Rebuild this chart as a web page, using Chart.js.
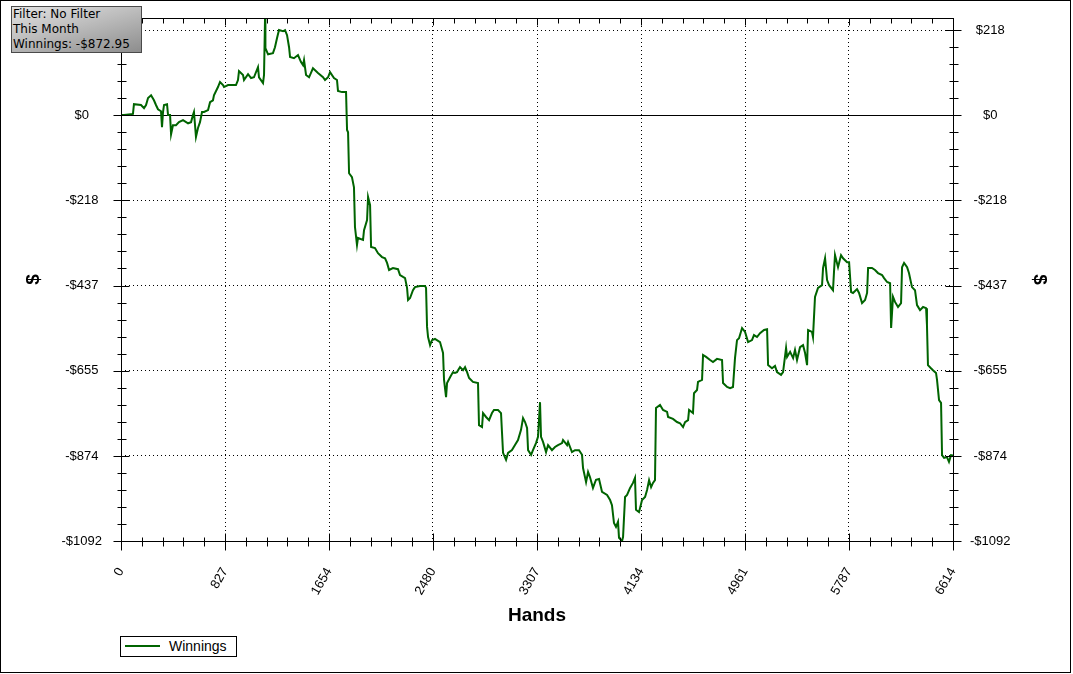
<!DOCTYPE html>
<html>
<head>
<meta charset="utf-8">
<title>Winnings</title>
<script src="https://cdn.jsdelivr.net/npm/chart.js@4.4.1/dist/chart.umd.min.js"></script>
<style>
    html, body { margin: 0; padding: 0; background: #fff; }
    #wrap { position: relative; width: 1073px; height: 674px; overflow: hidden; background: #fff; }
    #chart { position: absolute; left: 0; top: 0; }
    #frame { position: absolute; left: 0; top: 0; width: 1071px; height: 673px; border: 1px solid #000; box-sizing: border-box; pointer-events: none; }
    #info {
        position: absolute; left: 11px; top: 6px; width: 131px; height: 47px;
        box-sizing: border-box; border: 1px solid #4a4a4a; padding: 0 1px;
        background: linear-gradient(165deg, #e2e2e2 0%, #bdbdbd 45%, #8d8d8d 100%);
        font: 12px "DejaVu Sans", sans-serif; line-height: 15px; color: #000; white-space: nowrap;
    }
    #legend {
        position: absolute; left: 120px; top: 636px; width: 117px; height: 21px;
        box-sizing: border-box; border: 1px solid #000; background: #fff;
        font: 14px "Liberation Sans", Arial, sans-serif; color: #000;
    }
    #legend .swatch { position: absolute; left: 4px; top: 8px; width: 35px; height: 2px; background: #006400; }
    #legend .label { position: absolute; left: 48px; top: 1px; line-height: 17px; }
</style>
</head>
<body>
<div id="wrap">
    <canvas id="chart" width="1073" height="674"></canvas>
    <div id="info">Filter: No Filter<br>This Month<br>Winnings: -$872.95</div>
    <div id="legend"><span class="swatch"></span><span class="label">Winnings</span></div>
    <div id="frame"></div>
</div>
<script>
/* ─────────────────────────────────────────
   Data
   ─────────────────────────────────────────*/
const hands = [
    0, 24, 95, 103, 159, 183, 199, 215, 239, 262, 278, 294, 318, 326, 334, 342, 366, 374, 390, 398,
    413, 437, 461, 493, 533, 557, 572, 580, 596, 612, 628, 644, 660, 692, 708, 731, 739, 771, 787, 811,
    819, 851, 914, 930, 938, 970, 978, 1010, 1034, 1057, 1089, 1097, 1129, 1137, 1145, 1148, 1169, 1208, 1224, 1240,
    1256, 1288, 1304, 1320, 1336, 1344, 1375, 1407, 1431, 1447, 1455, 1471, 1495, 1526, 1566, 1606, 1622, 1646, 1662, 1693,
    1717, 1725, 1757, 1789, 1797, 1805, 1813, 1836, 1852, 1860, 1876, 1884, 1924, 1932, 1956, 1964, 1980, 1988, 2019, 2043,
    2075, 2099, 2115, 2131, 2162, 2202, 2218, 2242, 2258, 2274, 2282, 2298, 2321, 2337, 2377, 2417, 2425, 2433, 2441, 2457,
    2472, 2496, 2536, 2560, 2568, 2584, 2592, 2616, 2639, 2655, 2671, 2695, 2719, 2735, 2751, 2767, 2798, 2838, 2846, 2870,
    2878, 2902, 2926, 2949, 2965, 2997, 3021, 3029, 3037, 3061, 3077, 3108, 3132, 3156, 3180, 3196, 3212, 3228, 3236, 3260,
    3275, 3299, 3315, 3331, 3339, 3355, 3379, 3395, 3426, 3450, 3474, 3506, 3514, 3546, 3554, 3585, 3609, 3641, 3665, 3673,
    3697, 3713, 3728, 3752, 3776, 3800, 3824, 3864, 3888, 3903, 3919, 3935, 3951, 3959, 3983, 3991, 4007, 4023, 4047, 4070,
    4086, 4094, 4118, 4142, 4166, 4182, 4198, 4214, 4229, 4245, 4253, 4285, 4309, 4341, 4349, 4388, 4420, 4444, 4468, 4484,
    4508, 4516, 4547, 4555, 4579, 4587, 4619, 4627, 4651, 4683, 4706, 4738, 4778, 4786, 4818, 4842, 4865, 4881, 4897, 4913,
    4937, 4961, 4985, 5016, 5032, 5056, 5080, 5112, 5136, 5144, 5175, 5199, 5215, 5247, 5263, 5287, 5295, 5319, 5343, 5358,
    5374, 5398, 5422, 5438, 5454, 5462, 5493, 5501, 5517, 5541, 5573, 5581, 5597, 5613, 5629, 5660, 5668, 5676, 5700, 5724,
    5740, 5772, 5788, 5804, 5819, 5851, 5867, 5891, 5915, 5931, 5939, 5970, 5994, 6018, 6050, 6066, 6090, 6114, 6122, 6137,
    6153, 6177, 6201, 6209, 6225, 6249, 6264, 6288, 6312, 6328, 6352, 6376, 6400, 6407, 6415, 6439, 6455, 6479, 6487, 6503,
    6519, 6527, 6543, 6566, 6582, 6598, 6614
];

const winnings = [
    0, 0, 3, 28, 26, 18, 26, 44, 51, 38, 26, 15, 10, -31, 8, 26, 28, 0, 0, -49,
    -26, -26, -18, -13, -21, -18, 0, 8, -56, -33, -18, 8, 8, 13, 33, 38, 51, 72, 85, 77,
    72, 77, 77, 90, 113, 103, 90, 105, 95, 97, 123, 97, 82, 103, 249, 172, 156, 159, 174, 197,
    218, 215, 218, 205, 174, 149, 146, 154, 136, 128, 141, 103, 97, 120, 108, 97, 90, 97, 110, 95,
    90, 62, 59, 59, -38, -44, -149, -159, -185, -287, -333, -315, -320, -295, -269, -210, -231, -338, -341, -354,
    -364, -367, -379, -397, -392, -395, -410, -415, -418, -443, -474, -469, -449, -441, -438, -438, -443, -543, -569, -590,
    -577, -574, -582, -610, -679, -723, -687, -672, -659, -661, -659, -646, -654, -646, -659, -674, -684, -687, -795, -800,
    -764, -774, -782, -764, -756, -756, -764, -815, -866, -884, -866, -859, -846, -833, -807, -777, -787, -802, -859, -871,
    -859, -841, -825, -736, -825, -838, -864, -846, -859, -851, -846, -841, -833, -846, -838, -864, -859, -859, -871, -905,
    -941, -915, -928, -956, -935, -933, -966, -974, -987, -1000, -1046, -1056, -1043, -1084, -1092, -1082, -979, -974, -956, -943,
    -930, -1012, -1018, -987, -979, -961, -936, -954, -943, -936, -751, -743, -756, -761, -774, -779, -787, -790, -800, -787,
    -782, -756, -764, -713, -705, -684, -679, -615, -620, -628, -633, -625, -628, -687, -697, -700, -697, -623, -577, -572,
    -546, -556, -582, -577, -564, -569, -559, -551, -549, -641, -649, -643, -659, -666, -659, -597, -620, -607, -623, -602,
    -628, -595, -590, -610, -641, -551, -556, -569, -466, -443, -436, -392, -367, -423, -436, -449, -402, -359, -390, -359,
    -367, -377, -377, -454, -456, -446, -456, -482, -474, -456, -392, -392, -397, -405, -410, -418, -428, -431, -546, -466,
    -479, -492, -482, -390, -379, -390, -405, -441, -449, -487, -500, -492, -495, -538, -641, -649, -654, -661, -679, -731,
    -738, -872, -879, -877, -889, -872, -873
];

const xTickValues = [0, 827, 1654, 2480, 3307, 4134, 4961, 5787, 6614];
const yTickValues = [-1092, -874, -655, -437, -218, 0, 218];
const yMin = -1092;
const yMax = 249;

/* ─────────────────────────────────────────
   Tick marks + plot frame
   ─────────────────────────────────────────*/
function withMinors(values) {
    const out = [];
    for (let i = 0; i < values.length - 1; i++) {
        const step = (values[i + 1] - values[i]) / 5;
        for (let k = 1; k < 5; k++) out.push(values[i] + step * k);
    }
    return out;
}

const tickMarks = {
    id: 'tickMarks',
    afterDraw(chart) {
        const { ctx, chartArea: a, scales } = chart;
        const L = Math.round(a.left) + 0.5, R = Math.round(a.right) + 0.5;
        const T = Math.round(a.top) + 0.5, B = Math.round(a.bottom) + 0.5;
        ctx.save();
        ctx.strokeStyle = '#000';
        ctx.lineWidth = 1;
        ctx.setLineDash([]);
        ctx.strokeRect(L, T, R - L, B - T);
        ctx.beginPath();

        const yMinor = withMinors(yTickValues);
        yTickValues.forEach(v => {
            const p = Math.round(scales.y.getPixelForValue(v)) + 0.5;
            ctx.moveTo(L - 8, p); ctx.lineTo(L + 8, p);
            ctx.moveTo(R - 8, p); ctx.lineTo(R + 8, p);
        });
        yMinor.forEach(v => {
            const p = Math.round(scales.y.getPixelForValue(v)) + 0.5;
            ctx.moveTo(L - 4, p); ctx.lineTo(L + 5, p);
            ctx.moveTo(R - 4, p); ctx.lineTo(R + 5, p);
        });

        const xMinor = withMinors(xTickValues);
        xTickValues.forEach(v => {
            const p = Math.round(scales.x.getPixelForValue(v)) + 0.5;
            ctx.moveTo(p, B - 8); ctx.lineTo(p, B + 9);
            ctx.moveTo(p, T); ctx.lineTo(p, T + 7);
        });
        xMinor.forEach(v => {
            const p = Math.round(scales.x.getPixelForValue(v)) + 0.5;
            ctx.moveTo(p, B - 4); ctx.lineTo(p, B + 5);
            ctx.moveTo(p, T); ctx.lineTo(p, T + 5);
        });
        ctx.stroke();
        ctx.restore();
    }
};

const tickFont = { family: '"Liberation Sans", Arial, sans-serif', size: 13 };
const titleFont = { family: '"Liberation Sans", Arial, sans-serif', size: 19, weight: 'bold' };
const money = v => (v < 0 ? '-$' + Math.abs(v) : '$' + v);
const clear = 'rgba(0,0,0,0)';

new Chart(document.getElementById('chart'), {
    type: 'line',
    data: {
        datasets: [{
            label: 'Winnings',
            data: hands.map((h, i) => ({ x: h, y: winnings[i] })),
            borderColor: '#006400',
            borderWidth: 2,
            pointRadius: 0,
            tension: 0,
            fill: false
        }]
    },
    options: {
        responsive: false,
        animation: false,
        layout: { padding: { top: 18, left: 0, right: 0, bottom: 0 } },
        plugins: { legend: { display: false }, tooltip: { enabled: false } },
        scales: {
            x: {
                type: 'linear',
                min: 0,
                max: 6614,
                afterBuildTicks: s => { s.ticks = xTickValues.map(v => ({ value: v })); },
                afterFit: s => { s.height = 133; },
                ticks: {
                    autoSkip: false,
                    minRotation: 60,
                    maxRotation: 60,
                    padding: 24,
                    color: '#000',
                    font: tickFont,
                    callback: v => String(v)
                },
                grid: {
                    drawTicks: false,
                    lineWidth: 1,
                    color: c => (c.tick && c.tick.value > 0 && c.tick.value < 6614) ? '#000' : clear
                },
                border: { display: false, dash: [1, 3] },
                title: {
                    display: true,
                    text: 'Hands',
                    color: '#000',
                    font: titleFont,
                    padding: { top: 0, bottom: 47 }
                }
            },
            y: {
                type: 'linear',
                position: 'left',
                min: yMin,
                max: yMax,
                afterBuildTicks: s => { s.ticks = yTickValues.map(v => ({ value: v })); },
                afterFit: s => { s.width = 121; },
                ticks: { crossAlign: 'center', padding: 0, color: '#000', font: tickFont, callback: money },
                grid: {
                    drawTicks: true,
                    tickLength: 19,
                    tickColor: clear,
                    lineWidth: 1,
                    color: c => (c.tick && c.tick.value === yMin) ? clear : '#000'
                },
                border: { display: false, dash: c => (c.tick && c.tick.value === 0) ? [] : [1, 3] },
                title: { display: true, text: '$', color: '#000', font: titleFont, padding: { top: 22, bottom: 0 } }
            },
            y2: {
                type: 'linear',
                position: 'right',
                min: yMin,
                max: yMax,
                afterBuildTicks: s => { s.ticks = yTickValues.map(v => ({ value: v })); },
                afterFit: s => { s.width = 120; },
                ticks: { crossAlign: 'center', padding: 0, color: '#000', font: tickFont, callback: money },
                grid: { display: false, drawTicks: true, tickLength: 17, tickColor: clear },
                border: { display: false },
                title: { display: true, text: '$', color: '#000', font: titleFont, padding: { top: 22, bottom: 0 } }
            }
        }
    },
    plugins: [tickMarks]
});
</script>
</body>
</html>
